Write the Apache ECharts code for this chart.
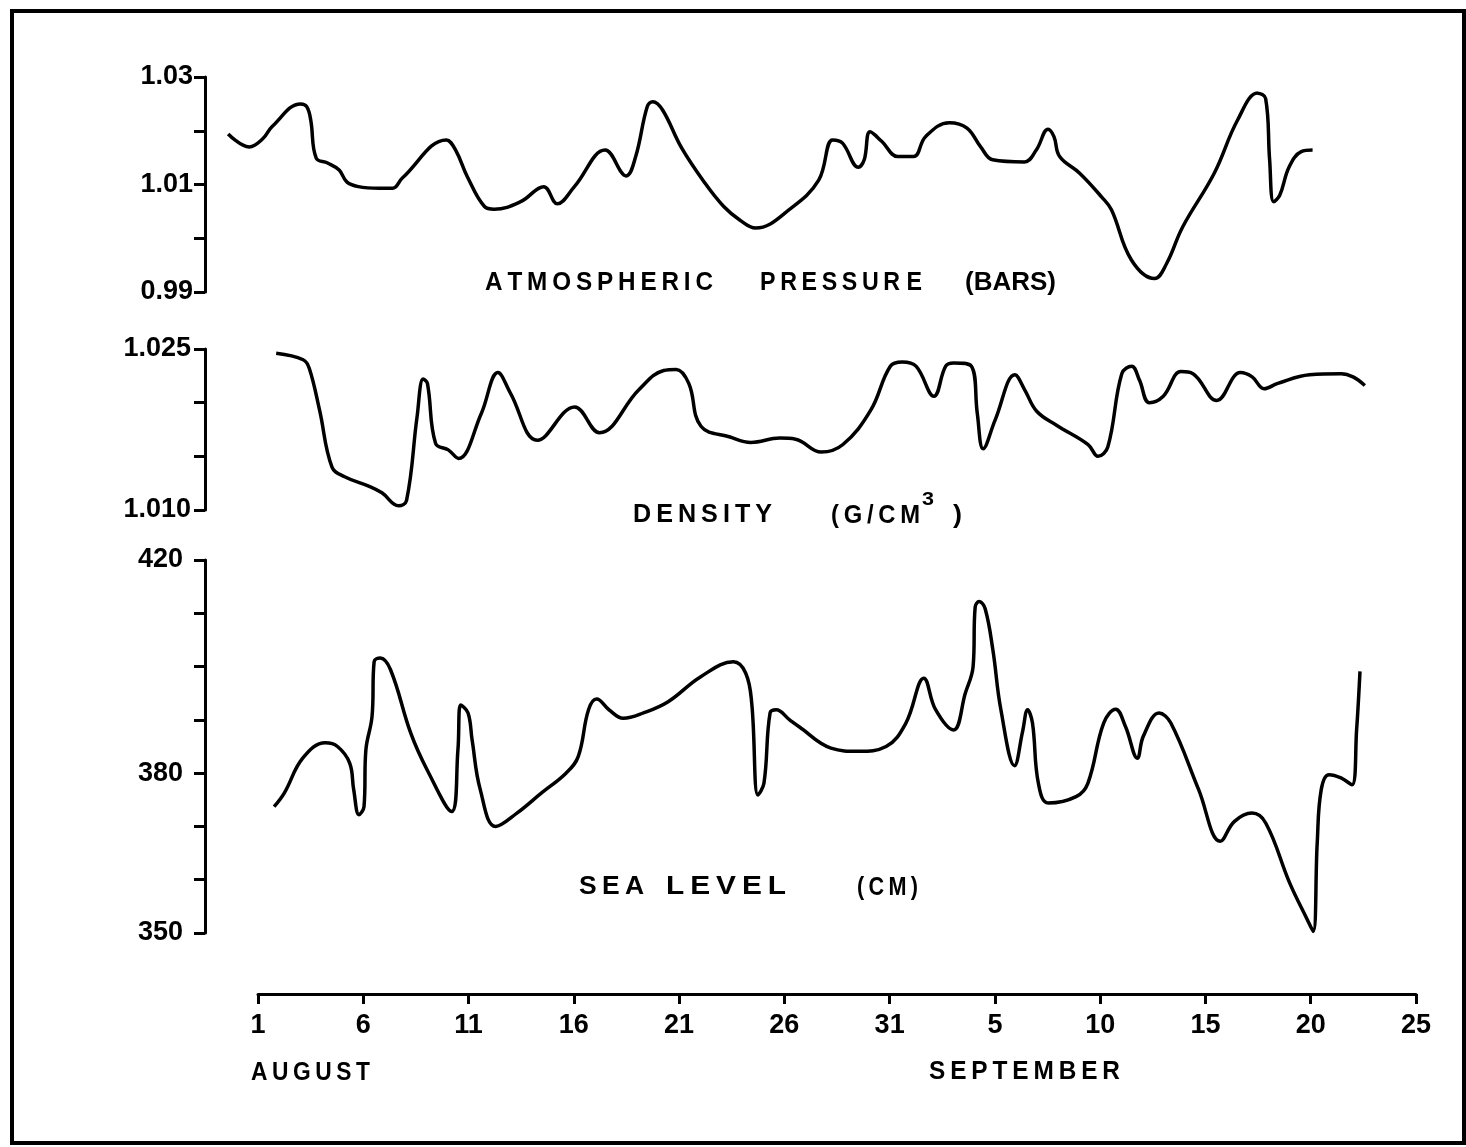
<!DOCTYPE html>
<html>
<head>
<meta charset="utf-8">
<title>Atmospheric pressure, density and sea level</title>
<script src="https://cdn.jsdelivr.net/npm/echarts@6/dist/echarts.min.js"></script>
<style>body{margin:0;background:#fff}</style>
</head>
<body>
<div id="chart" style="width:1466px;height:1147px"></div>
<script>
// day 0 = 1 August, day 31 = 1 September
const pressureDay = [-1.40,-0.40,0.24,0.69,2.04,2.33,2.52,2.78,3.32,3.87,4.23,4.78,5.77,6.41,6.87,8.96,9.40,9.95,10.77,11.23,12.49,13.58,14.23,15.04,16.50,17.50,17.95,18.50,18.76,19.22,20.13,21.23,22.13,22.89,23.64,25.33,26.64,27.30,27.77,28.52,28.80,29.08,29.64,30.39,31.15,31.71,32.84,33.68,34.33,34.90,36.41,36.97,37.53,37.81,38.08,39.03,40.07,40.54,41.48,42.59,43.16,43.92,45.42,46.53,47.48,47.86,48.05,48.24,48.53,48.98,49.55,50.09];
const pressureVal = [1.0194,1.0170,1.0185,1.0208,1.0250,1.0245,1.0220,1.0149,1.0140,1.0127,1.0105,1.0096,1.0093,1.0093,1.0112,1.0183,1.0164,1.0115,1.0059,1.0054,1.0068,1.0096,1.0064,1.0096,1.0164,1.0116,1.0152,1.0245,1.0254,1.0239,1.0168,1.0103,1.0059,1.0034,1.0019,1.0056,1.0108,1.0183,1.0177,1.0132,1.0146,1.0198,1.0180,1.0152,1.0152,1.0189,1.0215,1.0205,1.0170,1.0146,1.0142,1.0164,1.0203,1.0189,1.0152,1.0121,1.0077,1.0053,0.9960,0.9925,0.9953,1.0021,1.0121,1.0220,1.0270,1.0260,1.0146,1.0068,1.0080,1.0133,1.0161,1.0164];

const densityDay = [0.88,2.16,2.45,2.94,3.53,4.13,5.30,5.90,6.69,7.07,7.57,7.86,8.06,8.45,9.05,9.54,10.62,11.41,12.00,13.28,15.05,16.23,18.10,19.28,19.87,20.47,21.05,22.43,23.42,24.79,25.54,26.76,27.79,29.11,30.04,30.61,31.26,32.11,32.67,33.05,33.89,34.17,34.45,35.02,35.96,36.42,36.99,37.93,39.43,39.90,40.37,41.03,41.50,41.87,42.34,43.00,43.84,44.41,45.54,46.66,47.22,47.79,48.44,49.95,51.45,52.01,52.57];
const densityVal = [1.0246,1.0240,1.0232,1.0193,1.0140,1.0131,1.0122,1.0116,1.0104,1.0109,1.0187,1.0222,1.0218,1.0162,1.0156,1.0148,1.0190,1.0228,1.0209,1.0165,1.0196,1.0172,1.0212,1.0230,1.0231,1.0218,1.0178,1.0168,1.0163,1.0167,1.0166,1.0154,1.0161,1.0193,1.0234,1.0238,1.0234,1.0206,1.0234,1.0237,1.0234,1.0190,1.0157,1.0184,1.0226,1.0212,1.0192,1.0179,1.0161,1.0150,1.0159,1.0227,1.0234,1.0221,1.0200,1.0206,1.0229,1.0227,1.0202,1.0228,1.0224,1.0213,1.0218,1.0226,1.0227,1.0224,1.0216];

const seaDay = [0.78,1.27,2.14,3.21,3.79,4.37,4.56,4.81,5.05,5.14,5.43,5.53,5.82,6.31,7.27,8.05,9.21,9.51,9.64,9.99,10.18,10.57,11.30,12.31,13.48,14.64,15.22,15.71,16.10,16.68,17.36,18.32,19.49,21.04,22.59,23.17,23.46,23.75,24.04,24.33,24.62,25.26,25.71,27.22,28.53,29.84,30.78,31.63,32.19,33.04,33.60,33.97,34.07,34.26,34.54,34.91,35.29,35.94,36.32,36.56,36.79,37.07,37.54,38.86,39.42,40.17,40.74,41.21,41.77,42.05,42.80,43.36,44.68,45.71,46.37,47.21,47.87,49.00,49.84,50.12,50.31,50.50,50.87,51.44,51.96,52.18,52.34];
const seaVal = [373.7,376.3,382.8,385.7,385.0,381.9,376.9,372.2,373.7,384.4,390.6,400.9,401.6,399.4,387.5,380.6,372.8,384.4,392.8,391.3,386.3,376.9,370.0,372.5,376.3,380.0,383.1,391.9,393.9,391.9,390.3,391.3,393.4,398.1,400.9,398.8,393.1,375.9,378.1,391.3,391.9,390.0,388.7,384.7,384.1,385.0,389.4,397.8,391.9,388.1,395.0,400.0,411.2,412.2,410.9,403.1,391.9,381.4,387.8,391.9,389.4,378.1,374.4,375.6,378.1,389.4,392.0,388.7,382.8,386.9,391.3,389.4,376.9,367.2,370.9,372.5,370.6,359.4,352.5,350.3,366.9,376.9,379.7,379.1,377.8,388.1,399.1];

// tick labels
const xTickLabels = ['1','6','11','16','21','26','31','5','10','15','20','25'];
const pressureTicks = ['0.99','','1.01','','1.03'];
const densityTicks = ['1.010','','','1.025'];
const seaTicks = ['350','','','380','','','','420'];

const FONT = '"Liberation Sans", Arial, sans-serif';
const chart = echarts.init(document.getElementById('chart'));

// panel titles: letters spread with thin spaces, stretched to the width they take in the figure
const S = '\u2009';
function spread(s) { return s.split('').join(S); }
const titles = [
  {text: spread('ATMOSPHERIC'), left: 485, right: 713, y: 283, size: 25},
  {text: spread('PRESSUR') + ' E', left: 760, right: 922, y: 283, size: 25},
  {text: '(BARS)', left: 965, right: 1056, y: 283, size: 25},
  {text: spread('DENSITY'), left: 633, right: 772, y: 515, size: 25},
  {text: spread('(G/CM'), left: 831, right: 920, y: 516, size: 25},
  {text: '3', left: 922, right: 934, y: 500, size: 18},
  {text: ')', left: 953, right: 962, y: 516, size: 25},
  {text: spread('SEA'), left: 579, right: 644, y: 887, size: 25},
  {text: spread('LEVEL'), left: 666, right: 786, y: 887, size: 25},
  {text: spread('(CM)'), left: 857, right: 918, y: 888, size: 25},
  {text: spread('AUGUST'), left: 251, right: 370, y: 1073, size: 26},
  {text: spread('SEPTEMBER'), left: 929, right: 1120, y: 1072, size: 26}
];

const measure = document.createElement('canvas').getContext('2d');
function titleText(t) {
  measure.font = 'bold ' + t.size + 'px ' + FONT;
  const w = measure.measureText(t.text).width;
  return {
    type: 'text', x: t.left, y: t.y, scaleX: (t.right - t.left) / w, silent: true,
    style: {
      text: t.text, fill: '#000', fontSize: t.size, fontWeight: 'bold', fontFamily: FONT,
      align: 'left', verticalAlign: 'middle', textAlign: 'left', textVerticalAlign: 'middle'
    }
  };
}

function panelX(i) {
  return {type: 'value', gridIndex: i, min: -2.5, max: 55, show: false};
}

function panelY(i, min, max, interval, labels, margin) {
  return {
    type: 'value', gridIndex: i, min: min, max: max, interval: interval,
    axisLine: {show: true, onZero: false, lineStyle: {color: '#000', width: 3}},
    axisTick: {show: true, length: 11, lineStyle: {color: '#000', width: 3}},
    splitLine: {show: false},
    axisLabel: {
      margin: margin, color: '#000', fontSize: 27, fontWeight: 'bold', fontFamily: FONT,
      formatter: function (v, idx) { return labels[idx]; }
    }
  };
}

function curve(i, days, vals) {
  return {
    type: 'line', xAxisIndex: i, yAxisIndex: i,
    data: days.map((d, k) => [d, vals[k]]),
    showSymbol: false, smooth: 0.4, silent: true,
    lineStyle: {color: '#000', width: 3.5}
  };
}

let option = {
  animation: false,
  backgroundColor: '#fff',
  grid: [
    {left: 205, width: 1211, top: 77, height: 215},
    {left: 205, width: 1211, top: 349, height: 161},
    {left: 205, width: 1211, top: 560, height: 373},
    {left: 258, width: 1158, top: 960, height: 34}
  ],
  xAxis: [
    panelX(0), panelX(1), panelX(2),
    {
      type: 'value', gridIndex: 3, min: 0, max: 55, interval: 5,
      axisLine: {show: true, onZero: false, lineStyle: {color: '#000', width: 3}},
      axisTick: {show: true, length: 10, lineStyle: {color: '#000', width: 3}},
      splitLine: {show: false},
      axisLabel: {
        margin: 18, color: '#000', fontSize: 27, fontWeight: 'bold', fontFamily: FONT,
        formatter: function (v, idx) { return xTickLabels[idx]; }
      }
    }
  ],
  yAxis: [
    panelY(0, 0.99, 1.03, 0.01, pressureTicks, 12),
    panelY(1, 1.010, 1.025, 0.005, densityTicks, 14),
    panelY(2, 350, 420, 10, seaTicks, 22),
    {type: 'value', gridIndex: 3, show: false}
  ],
  series: [
    curve(0, pressureDay, pressureVal),
    curve(1, densityDay, densityVal),
    curve(2, seaDay, seaVal)
  ],
  graphic: [
    {
      type: 'rect', silent: true,
      shape: {x: 12, y: 11, width: 1452, height: 1132},
      style: {fill: 'none', stroke: '#000', lineWidth: 4}
    }
  ].concat(titles.map(titleText))
};

chart.setOption(option);
</script>
</body>
</html>
